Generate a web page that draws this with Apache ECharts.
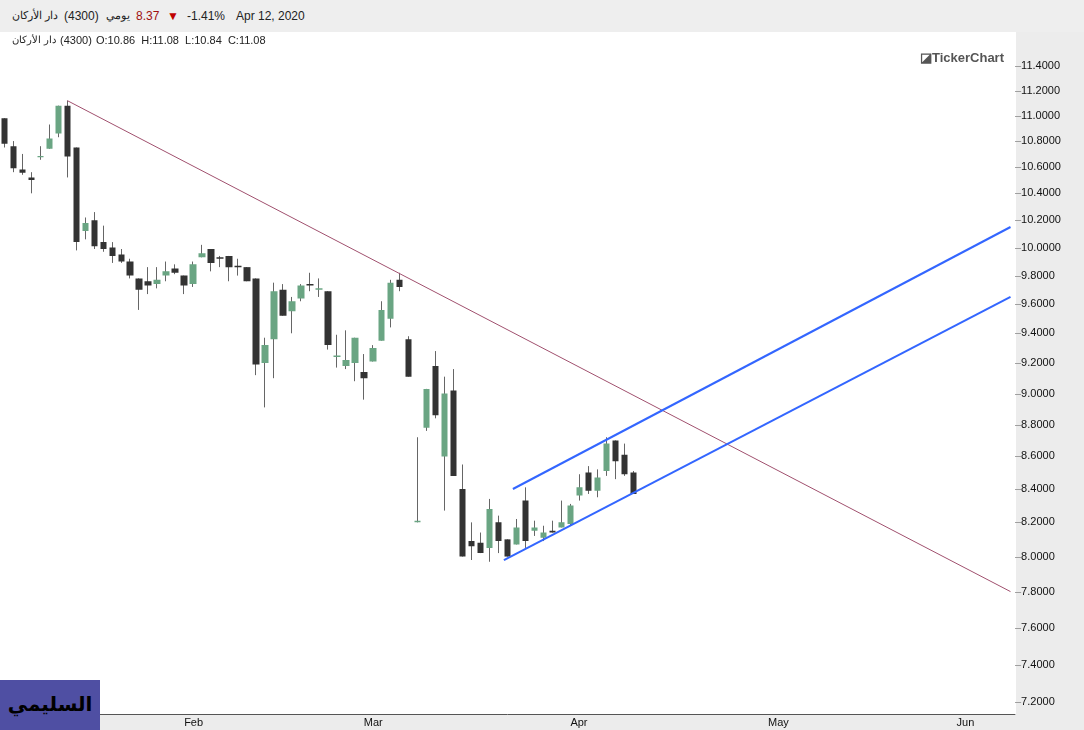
<!DOCTYPE html>
<html>
<head>
<meta charset="utf-8">
<script src="https://cdn.jsdelivr.net/npm/echarts@6/dist/echarts.min.js"></script>
<style>
  body { margin: 0; background: #fff; font-family: "Liberation Sans", Arial, sans-serif; }
  #top { position: absolute; left: 0; top: 0; width: 1084px; height: 32px; background: #eeeeee; font-size: 12px; color: #222; z-index: 2; }
  .t { position: absolute; white-space: nowrap; }
  #top .t { top: 9px; }
  #sub { position: absolute; left: 0; top: 34px; font-size: 11px; color: #222; z-index: 2; width: 400px; height: 14px; }
  #chart { position: absolute; left: 0; top: 0; width: 1084px; height: 730px; }
  #logo { position: absolute; left: 0; top: 680px; width: 100px; height: 50px; background: #4f4fa3; color: #000; font: bold 20px "DejaVu Sans", sans-serif; text-align: center; line-height: 48px; z-index: 2; }
</style>
</head>
<body>
<div id="chart"></div>
<div id="top">
  <span class="t" style="left:12px;font-size:11px">دار الأركان</span>
  <span class="t" style="left:64px">(4300)</span>
  <span class="t" style="left:106px;font-size:11px">يومي</span>
  <span class="t" style="left:136px;color:#a01010">8.37</span>
  <span class="t" style="left:167px;color:#c00000">&#9660;</span>
  <span class="t" style="left:187px">-1.41%</span>
  <span class="t" style="left:236px">Apr 12, 2020</span>
</div>
<div id="sub">
  <span class="t" style="left:12px;font-size:10px">دار الأركان</span>
  <span class="t" style="left:60px">(4300)</span>
  <span class="t" style="left:96px">O:10.86&nbsp; H:11.08&nbsp; L:10.84&nbsp; C:11.08</span>
</div>
<div id="logo">السليمي</div>
<script>
// OHLC per trading day, from Jan 5 2020
const opens  = [10.98,10.76,10.58,10.52,10.675,10.74,10.86,11.08,10.75,10.12,10.20,10.04,10.00,9.95,9.90,9.78,9.76,9.74,9.80,9.85,9.80,9.74,9.93,9.99,9.93,9.94,9.87,9.86,9.78,9.20,9.36,9.70,9.55,9.64,9.74,9.70,9.69,9.24,9.18,9.20,9.14,9.21,9.35,9.50,9.77,9.36,8.20,8.78,9.18,8.60,9.02,8.40,8.09,8.08,8.05,8.20,8.10,8.07,8.33,8.15,8.11,8.15,8.17,8.19,8.36,8.50,8.39,8.51,8.70,8.61,8.50];
const closes = [10.78,10.59,10.555,10.50,10.685,10.82,11.08,10.68,10.04,10.18,10.01,9.99,9.94,9.90,9.80,9.70,9.73,9.77,9.83,9.82,9.73,9.88,9.96,9.89,9.92,9.86,9.86,9.76,9.19,9.32,9.69,9.52,9.62,9.73,9.73,9.71,9.32,9.25,9.22,9.37,9.10,9.30,9.56,9.75,9.72,9.11,8.21,9.03,8.86,9.00,8.48,8.00,8.06,8.02,8.28,8.09,8.00,8.17,8.09,8.17,8.14,8.14,8.20,8.30,8.41,8.39,8.47,8.68,8.57,8.49,8.37];
const lows   = [10.75,10.56,10.54,10.40,10.655,10.74,10.83,10.52,9.98,10.06,9.99,9.97,9.89,9.89,9.78,9.56,9.67,9.71,9.76,9.81,9.67,9.72,9.93,9.83,9.86,9.76,9.80,9.76,9.12,8.91,9.10,9.52,9.40,9.62,9.69,9.65,9.29,9.17,9.16,9.08,8.96,9.21,9.35,9.44,9.69,9.11,8.20,8.76,8.84,8.27,8.48,8.00,7.98,8.02,7.97,8.02,8.00,8.07,8.05,8.12,8.09,8.14,8.17,8.18,8.33,8.37,8.35,8.48,8.46,8.48,8.37];
const highs  = [10.98,10.80,10.70,10.56,10.76,10.93,11.08,11.12,10.75,10.22,10.26,10.16,10.04,9.99,9.92,9.78,9.86,9.86,9.90,9.88,9.80,9.90,10.02,9.99,9.94,9.94,9.92,9.86,9.78,9.37,9.75,9.74,9.65,9.74,9.82,9.78,9.69,9.39,9.42,9.37,9.26,9.32,9.62,9.77,9.82,9.38,8.72,9.03,9.28,9.11,9.16,8.55,8.20,8.14,8.34,8.24,8.10,8.22,8.41,8.21,8.18,8.21,8.33,8.31,8.49,8.54,8.52,8.72,8.70,8.68,8.51];
const lastPrice = 8.37;
const yTicks = [7.2,7.4,7.6,7.8,8.0,8.2,8.4,8.6,8.8,9.0,9.2,9.4,9.6,9.8,10.0,10.2,10.4,10.6,10.8,11.0,11.2,11.4];
// drawn lines: [slot, price] endpoints
const trendLine  = [[7, 11.12], [112, 7.80]];
const channelTop = [[56.6, 8.40], [112, 10.15]];
const channelBot = [[55.6, 7.98], [112, 9.65]];

// trading days (Sun-Thu), 113 slots
const SLOTS = 113;
const days = [];
const d = new Date(Date.UTC(2020, 0, 5));
while (days.length < SLOTS) {
  const w = d.getUTCDay();
  if (w <= 4) days.push(new Date(d));
  d.setUTCDate(d.getUTCDate() + 1);
}
const months = ['Jan','Feb','Mar','Apr','May','Jun','Jul'];
const cats = days.map(x => x.toISOString().slice(0, 10));
const monthStarts = [];
days.forEach((x, i) => { if (i > 0 && x.getUTCMonth() !== days[i - 1].getUTCMonth()) monthStarts.push(i); });

const ohlc = opens.map((o, i) => [o, closes[i], lows[i], highs[i]]);
const chart = echarts.init(document.getElementById('chart'));
const lineStyle = (color, w) => ({ type: 'line', xAxisIndex: 1, symbol: 'none', silent: true, lineStyle: { color: color, width: w }, z: 5 });
chart.setOption({
  animation: false,
  textStyle: { fontFamily: 'Liberation Sans, Arial, sans-serif' },
  grid: { left: 0, right: 69, top: 35, bottom: 16 },
  graphic: [
    { type: 'rect', left: 1016, top: 32, shape: { width: 68, height: 700 }, style: { fill: '#ececec' }, z: -10 },
    { type: 'rect', left: 0, top: 715, shape: { width: 1084, height: 16 }, style: { fill: '#ececec' }, z: -10 },
    { type: 'text', right: 80, top: 52, style: { text: '◪TickerChart', fontSize: 13, fontWeight: 'bold', fill: '#555' } }
  ],
  xAxis: [{
    type: 'category', data: cats, boundaryGap: true,
    axisLine: { lineStyle: { color: '#555' } },
    axisTick: { customValues: monthStarts, length: 5, inside: true, lineStyle: { color: '#aaa' } },
    axisLabel: { customValues: monthStarts, formatter: v => months[new Date(v).getUTCMonth()], align: 'left', margin: 3, fontSize: 11, color: '#111' },
    splitLine: { show: false }
  }, {
    type: 'value', min: -0.5, max: SLOTS - 0.5, show: false
  }],
  yAxis: {
    type: 'log', position: 'right', min: 7.14, max: 11.66,
    axisLine: { show: false },
    axisTick: { show: false },
    axisLabel: {
      customValues: yTicks, formatter: v => '{t|–}' + v.toFixed(4), fontSize: 11, color: '#111', margin: 0,
      rich: { t: { color: '#888', fontSize: 11 } }
    },
    splitLine: { show: false }
  },
  series: [{
    // wicks
    type: 'candlestick', data: ohlc, barWidth: 1, silent: true,
    itemStyle: { color: '#666', color0: '#666', borderColor: '#666', borderColor0: '#666', borderWidth: 1 }
  }, {
    type: 'candlestick', data: ohlc, barWidth: 7, z: 3,
    itemStyle: { color: '#6aa583', color0: '#333333', borderColor: '#6aa583', borderColor0: '#333333', borderWidth: 0 },
    markLine: {
      symbol: 'none', silent: true,
      data: [{ yAxis: lastPrice }],
      lineStyle: { opacity: 0 },
      label: { position: 'end', formatter: lastPrice.toFixed(4), backgroundColor: '#333', color: '#fff', padding: [3, 9, 3, 8], fontSize: 12, distance: 4 }
    }
  },
  Object.assign(lineStyle('#a0506e', 1), { data: trendLine }),
  Object.assign(lineStyle('#3366ff', 2), { data: channelTop }),
  Object.assign(lineStyle('#3366ff', 2), { data: channelBot })
  ]
});
</script>
</body>
</html>
